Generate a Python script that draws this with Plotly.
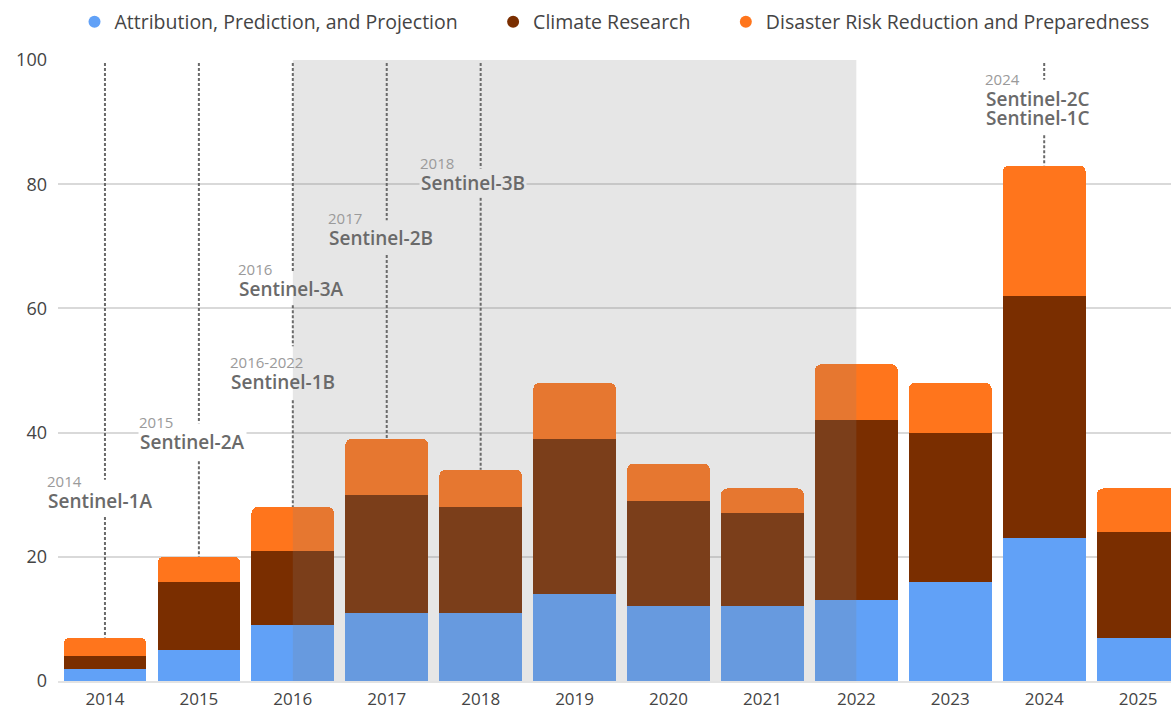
import plotly.graph_objects as go

years = [2014, 2015, 2016, 2017, 2018, 2019, 2020, 2021, 2022, 2023, 2024, 2025]
attribution = [2, 5, 9, 11, 11, 14, 12, 12, 13, 16, 23, 7]
climate = [2, 11, 12, 19, 17, 25, 17, 15, 29, 24, 39, 17]
disaster = [3, 4, 7, 9, 6, 9, 6, 4, 9, 8, 21, 7]

series_names = ["Attribution, Prediction, and Projection", "Climate Research",
                "Disaster Risk Reduction and Preparedness"]
series_colors = ["#61a1f7", "#7a2e00", "#ff751c"]

# Sentinel launches
launch_year = [2014, 2015, 2016, 2016, 2017, 2018, 2024]
launch_label = ["2014", "2015", "2016", "2016-2022", "2017", "2018", "2024"]
launch_names = [["Sentinel-1A"], ["Sentinel-2A"], ["Sentinel-3A"], ["Sentinel-1B"],
                ["Sentinel-2B"], ["Sentinel-3B"], ["Sentinel-2C", "Sentinel-1C"]]
label_y = [32.0, 41.5, 66.2, 51.2, 74.4, 83.3, 96.8]
label_shift = [-58, -60, -55, -63, -59, -61, -59]
label_bg = ["white", "white", "rgba(0,0,0,0)", "rgba(0,0,0,0)", "#e6e6e6", "#e6e6e6", "rgba(0,0,0,0)"]

# dashed line segments per year (data y ranges, leaving gaps for labels)
line_segments = {
    2014: [(99.5, 32.4), (26.4, 7)],
    2015: [(99.5, 41.5), (35.4, 20)],
    2016: [(99.5, 65.9), (60.5, 53.9), (45.2, 28)],
    2017: [(99.5, 74.2), (68.6, 39)],
    2018: [(99.5, 82.3), (77.8, 34)],
    2024: [(99.5, 96.8), (87.9, 83)],
}

FONT = "'Open Sans', Lato, sans-serif"
PAD = "\u00a0" * 6

fig = go.Figure()
for name, vals, col in zip(series_names, [attribution, climate, disaster], series_colors):
    fig.add_trace(go.Bar(x=years, y=vals, name=name, marker=dict(color=col, line=dict(width=0)),
                         showlegend=False))
for i, (name, col) in enumerate(zip(series_names, series_colors)):
    fig.add_trace(go.Scatter(x=[None], y=[None], mode="markers",
                             name=name + (PAD if i < len(series_names) - 1 else ""),
                             marker=dict(color=col, size=16, symbol="circle")))

shapes = [dict(type="rect", xref="x", yref="y", x0=2016, x1=2022, y0=0, y1=100,
               fillcolor="rgba(128,128,128,0.2)", line=dict(width=0), layer="above")]
for yr, segs in line_segments.items():
    for y0, y1 in segs:
        shapes.append(dict(type="line", xref="x", yref="y", x0=yr, x1=yr, y0=y0, y1=y1,
                           line=dict(color="#6a6a6a", width=2, dash="3px,2px"), layer="above"))

name_annots, year_annots = [], []
for yr, lab, names, ly, sh, bg in zip(launch_year, launch_label, launch_names, label_y, label_shift, label_bg):
    year_annots.append(dict(x=yr, y=ly, xref="x", yref="y", text=lab, showarrow=False,
                            xanchor="left", yanchor="middle", align="left", xshift=sh - 2,
                            yshift=1, borderpad=1, bgcolor="rgba(0,0,0,0)",
                            font=dict(family=FONT, size=15, color="#9a9a9a")))
    for i, nm in enumerate(names):
        name_annots.append(dict(x=yr, y=ly, xref="x", yref="y", text=nm, showarrow=False,
                                xanchor="left", yanchor="middle", align="left", xshift=sh - 1,
                                yshift=-19 * (i + 1), bgcolor=bg if i == 0 else "rgba(0,0,0,0)",
                                borderpad=1,
                                font=dict(family=FONT, size=19, color="#6a6a6a", weight=600)))
annotations = name_annots + year_annots

fig.update_layout(
    width=1171, height=709, autosize=False,
    margin=dict(l=58, r=0, t=60, b=28),
    barmode="stack", bargap=0.12, barcornerradius=6,
    plot_bgcolor="white", paper_bgcolor="white",
    font=dict(family=FONT, size=17, color="#444"),
    legend=dict(orientation="h", x=0.5, xanchor="center", y=1.061, yanchor="middle",
                traceorder="normal", font=dict(size=19.5, color="#444"), itemsizing="constant"),
    shapes=shapes, annotations=annotations,
)
fig.update_xaxes(range=[2013.5, 2025.35], tickvals=years, ticktext=[str(y) for y in years],
                 showgrid=False, zeroline=False, showline=True, linecolor="#e3e3e3", linewidth=2,
                 ticks="", ticklabelstandoff=2, automargin=False, tickfont=dict(size=17, color="#444"))
fig.update_yaxes(range=[0, 100], tickvals=[0, 20, 40, 60, 80, 100], showgrid=True,
                 gridcolor="#d9d9d9", gridwidth=1.5, zeroline=False, ticks="", automargin=False,
                 ticklabelstandoff=10, tickfont=dict(size=18, color="#444"))

fig.write_html("out.html")
